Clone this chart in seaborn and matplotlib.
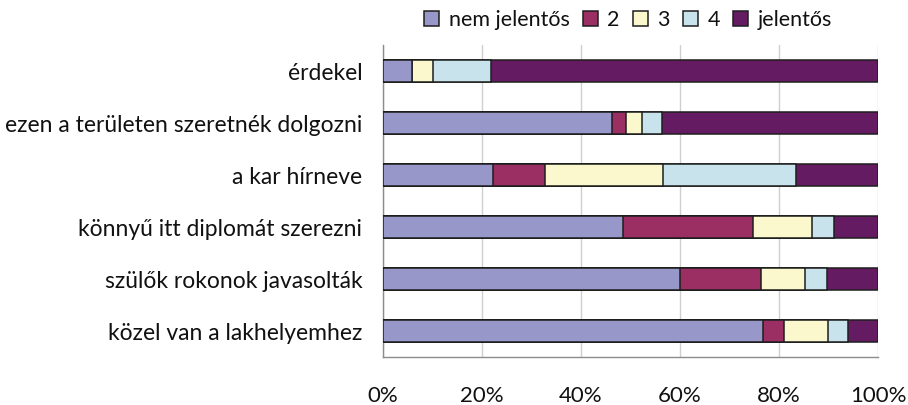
import numpy as np
import pandas as pd
import matplotlib.pyplot as plt
import seaborn as sns
from matplotlib.patches import Patch

sns.set_style("white")
plt.rcParams['font.family'] = ['Lato', 'DejaVu Sans']

# Data (percent of answers per reason)
categories = ['érdekel', 'ezen a területen szeretnék dolgozni', 'a kar hírneve',
              'könnyű itt diplomát szerezni', 'szülők rokonok javasolták',
              'közel van a lakhelyemhez']
levels = ['nem jelentős', '2', '3', '4', 'jelentős']
nem_jelentos = [5.9, 46.3, 22.2, 48.4, 60.1, 76.7]
ketto = [0.0, 2.8, 10.6, 26.4, 16.3, 4.4]
harom = [4.3, 3.2, 23.8, 11.9, 8.8, 8.8]
negy = [11.6, 4.1, 26.9, 4.4, 4.4, 4.1]
jelentos = [78.2, 43.6, 16.5, 8.9, 10.4, 6.0]
colors = ['#9797C9', '#9B2E62', '#FAF8CC', '#C9E3EC', '#641B62']

df = pd.DataFrame({'category': categories, 'nem jelentős': nem_jelentos, '2': ketto,
                   '3': harom, '4': negy, 'jelentős': jelentos})
cum = df[levels].cumsum(axis=1)
cum['category'] = df['category']

fig = plt.figure(figsize=(9.08, 4.05), dpi=100)
ax = fig.add_axes([383 / 908, (405 - 357) / 405, 495 / 908, 312 / 405])

# draw cumulative totals from the largest down so the layers stack
for lvl, col in reversed(list(zip(levels, colors))):
    sns.barplot(data=cum, x=lvl, y='category', color=col, order=categories,
                width=0.41, edgecolor='#1e1e1e', linewidth=1.1, saturation=1,
                ax=ax, zorder=3)

ax.set_xlim(0, 100)
ax.set_ylim(5.5, -0.5)
ax.set_xticks(np.arange(0, 101, 20))
ax.set_xticklabels([f'{v}%' for v in range(0, 101, 20)])
ax.set_xlabel('')
ax.set_ylabel('')
ax.grid(axis='x', color='#cfcfcf', linewidth=1.0, zorder=0)
ax.set_axisbelow(True)

for s in ['top', 'right']:
    ax.spines[s].set_visible(False)
for s in ['left', 'bottom']:
    ax.spines[s].set_color('#8c8c8c')
    ax.spines[s].set_linewidth(1.0)

ax.tick_params(axis='x', length=6, color='#c0c0c0', pad=15, labelsize=16, colors='#111111')
ax.tick_params(axis='y', which='major', length=0, pad=15, labelsize=16.5, colors='#111111')
ax.set_yticks(np.arange(-0.5, 6, 1), minor=True)
ax.tick_params(axis='y', which='minor', length=6, color='#8c8c8c')

handles = [Patch(facecolor=c, edgecolor='#1e1e1e', linewidth=1.1, label=l)
           for l, c in zip(levels, colors)]
fig.legend(handles=handles, loc='center', bbox_to_anchor=(628 / 908, 1 - 20 / 405),
           ncol=5, frameon=False, fontsize=15.5, handlelength=0.7, handleheight=0.7,
           handletextpad=0.45, columnspacing=0.6, borderaxespad=0, labelcolor='#111111')

fig.savefig('out.png', dpi=100)
